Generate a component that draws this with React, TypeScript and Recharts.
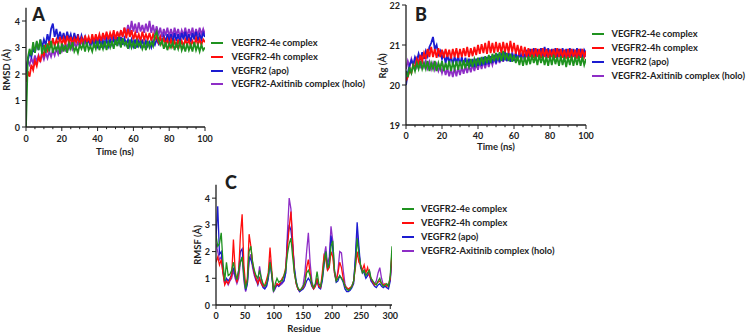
import React from 'react';
import { LineChart, Line, XAxis, YAxis } from 'recharts';

// ---- series metadata (legend order) ----
const SERIES_KEYS = ['e4', 'h4', 'apo', 'holo'];
const SERIES_NAMES = ['VEGFR2-4e complex', 'VEGFR2-4h complex', 'VEGFR2 (apo)', 'VEGFR2-Axitinib complex (holo)'];
const SERIES_COLORS = ['#1f921f', '#ff0d0d', '#1c1cd0', '#8e2ec6'];
// drawing order: holo at the back, 4e on top
const DRAW_ORDER = [3, 2, 1, 0];

// ---- simulation time (ns) ----
const TIME_NS = [
  0, 1, 2, 3, 4, 5, 6, 7, 8, 9, 10, 11, 12, 13, 14, 15, 16, 17, 18, 19, 20,
  21, 22, 23, 24, 25, 26, 27, 28, 29, 30, 31, 32, 33, 34, 35, 36, 37, 38, 39, 40,
  41, 42, 43, 44, 45, 46, 47, 48, 49, 50, 51, 52, 53, 54, 55, 56, 57, 58, 59, 60,
  61, 62, 63, 64, 65, 66, 67, 68, 69, 70, 71, 72, 73, 74, 75, 76, 77, 78, 79, 80,
  81, 82, 83, 84, 85, 86, 87, 88, 89, 90, 91, 92, 93, 94, 95, 96, 97, 98, 99, 100,
];

// ---- RMSD (Å) ----
const RMSD_4E = [
  0,
  2.6, 2.95, 2.7, 3.2, 2.8, 3.25, 2.9, 3.3, 2.75, 3.1,
  2.8, 3.15, 2.85, 3.25, 2.8, 3.05, 2.9, 3.1, 2.75, 3.15,
  2.85, 3.1, 2.8, 3.15, 2.95, 3.2, 2.85, 3.0, 2.8, 3.1,
  2.95, 3.15, 2.85, 3.2, 2.9, 3.05, 2.85, 3.15, 2.95, 3.25,
  2.9, 3.15, 2.95, 3.25, 2.9, 3.2, 3.0, 3.25, 2.95, 3.3,
  3.05, 3.4, 3.0, 3.35, 3.1, 3.2, 2.95, 3.3, 3.0, 3.2,
  2.95, 3.25, 3.05, 3.2, 2.95, 3.15, 2.9, 3.25, 3.0, 3.2,
  3.05, 3.45, 3.6, 3.3, 3.1, 3.25, 2.95, 3.2, 2.9, 3.15,
  3.0, 3.2, 2.9, 3.15, 2.95, 3.25, 2.9, 3.1, 2.85, 3.15,
  2.9, 3.1, 2.85, 3.2, 2.9, 3.1, 2.85, 3.1, 2.9, 3.0,
];
const RMSD_4H = [
  1.7,
  2.1, 1.9, 2.35, 2.15, 2.5, 2.3, 2.65, 2.45, 2.85, 2.7,
  3.1, 2.9, 3.25, 3.0, 3.35, 3.05, 3.3, 3.1, 3.4, 3.1,
  3.35, 3.1, 3.45, 3.15, 3.4, 3.1, 3.35, 3.2, 3.4, 3.1,
  3.35, 3.15, 3.45, 3.2, 3.4, 3.15, 3.5, 3.2, 3.5, 3.25,
  3.5, 3.25, 3.55, 3.3, 3.6, 3.3, 3.55, 3.35, 3.65, 3.3,
  3.6, 3.35, 3.65, 3.4, 3.75, 3.35, 3.7, 3.4, 3.65, 3.3,
  3.55, 3.3, 3.5, 3.25, 3.6, 3.3, 3.5, 3.3, 3.55, 3.25,
  3.5, 3.3, 3.45, 3.2, 3.4, 3.15, 3.35, 3.1, 3.3, 3.05,
  3.3, 3.05, 3.25, 3.0, 3.3, 3.05, 3.25, 3.05, 3.3, 3.1,
  3.3, 3.05, 3.25, 3.1, 3.35, 3.1, 3.3, 3.1, 3.3, 3.2,
];
const RMSD_APO = [
  2.0,
  2.5, 2.8, 2.65, 3.0, 2.8, 3.2, 2.9, 3.3, 3.0, 3.3,
  3.1, 3.5, 3.2, 3.7, 3.9, 3.4, 3.7, 3.3, 3.6, 3.3,
  3.55, 3.25, 3.6, 3.3, 3.5, 3.2, 3.55, 3.25, 3.5, 3.2,
  3.45, 3.2, 3.4, 3.1, 3.35, 3.05, 3.3, 3.0, 3.3, 3.05,
  3.3, 3.0, 3.25, 3.05, 3.3, 3.05, 3.3, 3.1, 3.35, 3.1,
  3.4, 3.15, 3.4, 3.1, 3.35, 3.1, 3.3, 3.05, 3.3, 3.05,
  3.3, 3.0, 3.25, 3.05, 3.3, 3.0, 3.25, 3.05, 3.2, 3.0,
  3.25, 3.1, 3.3, 3.15, 3.4, 3.2, 3.45, 3.2, 3.5, 3.25,
  3.5, 3.2, 3.55, 3.25, 3.5, 3.2, 3.55, 3.3, 3.6, 3.25,
  3.5, 3.2, 3.55, 3.3, 3.6, 3.25, 3.5, 3.3, 3.55, 3.4,
];
const RMSD_HOLO = [
  2.3,
  2.5, 2.35, 2.6, 2.4, 2.7, 2.45, 2.7, 2.5, 2.75, 2.55,
  2.8, 2.6, 2.85, 2.65, 2.9, 2.7, 2.95, 2.75, 3.0, 2.85,
  3.05, 2.9, 3.1, 2.95, 3.15, 2.95, 3.2, 3.0, 3.2, 3.05,
  3.25, 3.05, 3.25, 3.1, 3.3, 3.1, 3.3, 3.15, 3.35, 3.15,
  3.4, 3.2, 3.45, 3.25, 3.5, 3.3, 3.45, 3.3, 3.5, 3.35,
  3.55, 3.4, 3.6, 3.45, 3.75, 3.5, 3.85, 3.55, 4.0, 3.6,
  3.9, 3.55, 3.95, 3.6, 3.85, 3.55, 3.9, 3.6, 4.0, 3.55,
  3.85, 3.5, 3.8, 3.45, 3.75, 3.4, 3.7, 3.45, 3.75, 3.4,
  3.7, 3.4, 3.75, 3.45, 3.7, 3.4, 3.65, 3.45, 3.75, 3.4,
  3.7, 3.45, 3.75, 3.4, 3.7, 3.45, 3.75, 3.5, 3.7, 3.5,
];

// ---- radius of gyration (Å) ----
const RG_4E = [
  20.35,
  20.2, 20.45, 20.3, 20.5, 20.35, 20.55, 20.4, 20.6, 20.4, 20.55,
  20.4, 20.6, 20.35, 20.55, 20.4, 20.6, 20.35, 20.55, 20.4, 20.6,
  20.35, 20.55, 20.38, 20.6, 20.35, 20.55, 20.4, 20.6, 20.38, 20.6,
  20.4, 20.62, 20.42, 20.6, 20.45, 20.65, 20.45, 20.65, 20.5, 20.68,
  20.5, 20.7, 20.52, 20.72, 20.55, 20.75, 20.55, 20.78, 20.6, 20.8,
  20.62, 20.82, 20.6, 20.85, 20.62, 20.8, 20.6, 20.78, 20.58, 20.75,
  20.55, 20.72, 20.5, 20.7, 20.48, 20.7, 20.5, 20.72, 20.52, 20.75,
  20.55, 20.72, 20.5, 20.75, 20.55, 20.72, 20.5, 20.7, 20.48, 20.72,
  20.5, 20.75, 20.52, 20.7, 20.48, 20.72, 20.5, 20.7, 20.45, 20.7,
  20.5, 20.72, 20.48, 20.7, 20.5, 20.72, 20.48, 20.7, 20.5, 20.65,
];
const RG_4H = [
  20.1,
  20.2, 20.35, 20.3, 20.5, 20.45, 20.65, 20.5, 20.75, 20.6, 20.8,
  20.65, 20.9, 20.7, 20.95, 20.7, 20.9, 20.68, 20.92, 20.7, 20.88,
  20.68, 20.9, 20.7, 20.88, 20.66, 20.9, 20.7, 20.92, 20.68, 20.9,
  20.7, 20.92, 20.72, 20.95, 20.7, 20.92, 20.72, 20.95, 20.75, 21.0,
  20.78, 21.02, 20.8, 21.05, 20.78, 21.1, 20.8, 21.05, 20.8, 21.08,
  20.82, 21.05, 20.8, 21.08, 20.82, 21.05, 20.8, 21.1, 20.82, 21.05,
  20.78, 21.0, 20.75, 20.98, 20.72, 20.95, 20.7, 20.92, 20.7, 20.9,
  20.68, 20.92, 20.7, 20.9, 20.68, 20.92, 20.7, 20.9, 20.68, 20.88,
  20.7, 20.9, 20.68, 20.92, 20.7, 20.9, 20.68, 20.88, 20.66, 20.9,
  20.68, 20.9, 20.7, 20.88, 20.66, 20.9, 20.68, 20.9, 20.7, 20.85,
];
const RG_APO = [
  20.0,
  20.3, 20.5, 20.62, 20.5, 20.7, 20.6, 20.78, 20.62, 20.82, 20.65,
  20.85, 20.72, 20.95, 21.05, 21.2, 20.9, 21.0, 20.75, 20.85, 20.65,
  20.78, 20.55, 20.75, 20.55, 20.72, 20.52, 20.7, 20.55, 20.72, 20.5,
  20.7, 20.5, 20.68, 20.48, 20.66, 20.46, 20.65, 20.45, 20.66, 20.48,
  20.68, 20.48, 20.7, 20.5, 20.7, 20.52, 20.72, 20.55, 20.75, 20.55,
  20.78, 20.58, 20.8, 20.6, 20.82, 20.6, 20.8, 20.58, 20.78, 20.6,
  20.8, 20.62, 20.82, 20.65, 20.85, 20.65, 20.88, 20.68, 20.9, 20.7,
  20.92, 20.7, 20.9, 20.68, 20.92, 20.7, 20.95, 20.72, 20.92, 20.7,
  20.9, 20.68, 20.92, 20.7, 20.9, 20.68, 20.92, 20.7, 20.9, 20.72,
  20.92, 20.7, 20.9, 20.72, 20.92, 20.7, 20.9, 20.72, 20.88, 20.8,
];
const RG_HOLO = [
  20.4,
  20.6, 20.45, 20.65, 20.5, 20.62, 20.45, 20.6, 20.42, 20.62, 20.45,
  20.6, 20.42, 20.58, 20.4, 20.55, 20.38, 20.52, 20.35, 20.48, 20.3,
  20.45, 20.25, 20.42, 20.22, 20.4, 20.2, 20.42, 20.22, 20.44, 20.25,
  20.45, 20.28, 20.48, 20.3, 20.5, 20.32, 20.52, 20.35, 20.55, 20.38,
  20.58, 20.4, 20.6, 20.42, 20.62, 20.45, 20.65, 20.5, 20.68, 20.52,
  20.72, 20.55, 20.75, 20.58, 20.78, 20.6, 20.8, 20.6, 20.82, 20.62,
  20.8, 20.6, 20.82, 20.62, 20.85, 20.6, 20.82, 20.62, 20.88, 20.64,
  20.85, 20.62, 20.88, 20.65, 20.85, 20.62, 20.88, 20.66, 20.9, 20.65,
  20.86, 20.64, 20.88, 20.65, 20.9, 20.66, 20.86, 20.64, 20.88, 20.66,
  20.9, 20.65, 20.86, 20.64, 20.88, 20.66, 20.9, 20.65, 20.86, 20.7,
];

// ---- per-residue fluctuation (Å) ----
const RESIDUES = [
  0, 3, 6, 9, 12, 15, 18, 21, 24, 27,
  30, 33, 36, 39, 42, 45, 48, 51, 54, 57,
  60, 63, 66, 69, 72, 75, 78, 81, 84, 87,
  90, 93, 96, 99, 102, 105, 108, 111, 114, 117,
  120, 123, 126, 129, 132, 135, 138, 141, 144, 147,
  150, 153, 156, 159, 162, 165, 168, 171, 174, 177,
  180, 183, 186, 189, 192, 195, 198, 201, 204, 207,
  210, 213, 216, 219, 222, 225, 228, 231, 234, 237,
  240, 243, 246, 249, 252, 255, 258, 261, 264, 267,
  270, 273, 276, 279, 282, 285, 288, 291, 294, 297,
  300, 303,
];
const RMSF_4E = [
  2.6, 2.2, 2.3, 2.7, 1.6, 0.9, 1.6, 1.1, 1.15, 1.3,
  1.6, 1.2, 0.95, 1.3, 1.6, 1.8, 1.1, 0.6, 0.9, 2.0,
  2.2, 1.6, 1.3, 1.1, 1.0, 1.3, 1.0, 0.8, 0.7, 0.8,
  1.1, 1.6, 1.2, 0.5, 0.8, 1.0, 0.85, 0.9, 0.9, 1.1,
  1.3, 1.9, 2.3, 2.5, 1.8, 1.2, 0.85, 0.65, 0.55, 0.6,
  0.7, 0.85, 1.2, 1.3, 1.1, 0.8, 0.65, 0.8, 1.25, 0.8,
  0.7, 1.0, 1.6, 2.0, 1.4, 1.5, 2.2, 2.4, 1.3, 0.9,
  1.0, 1.1, 1.0, 0.9, 0.7, 0.6, 0.55, 0.6, 0.7, 0.9,
  1.5, 2.5, 1.9, 1.5, 1.2, 1.3, 1.1, 1.2, 1.3, 1.0,
  0.9, 0.8, 0.75, 0.9, 1.0, 0.8, 0.7, 0.75, 0.8, 0.7,
  1.1, 2.2,
];
const RMSF_4H = [
  1.6, 1.8, 1.5, 1.7, 1.2, 0.75, 0.9, 0.8, 0.95, 1.1,
  2.45, 1.3, 0.85, 1.2, 2.6, 3.4, 1.5, 0.7, 1.0, 2.65,
  2.2, 1.6, 1.2, 1.0, 0.8, 1.0, 0.8, 0.7, 0.75, 0.95,
  1.2, 2.15, 1.3, 0.6, 0.7, 0.8, 0.75, 0.85, 1.0, 1.1,
  1.4, 2.2, 2.9, 3.5, 2.3, 1.2, 0.8, 0.6, 0.55, 0.6,
  0.65, 0.8, 1.4, 1.7, 1.2, 0.75, 0.6, 0.7, 1.0, 0.7,
  0.65, 1.2, 1.85, 1.7, 1.3, 1.4, 2.0, 1.8, 1.2, 0.9,
  1.2, 1.6, 1.4, 1.0, 0.7, 0.65, 0.6, 0.65, 0.7, 0.9,
  1.4, 2.0, 1.6, 1.5, 1.3, 1.5, 1.2, 1.4, 1.1, 1.0,
  0.85, 0.75, 0.8, 0.85, 0.9, 0.8, 0.75, 0.8, 0.7, 0.75,
  1.0, 2.0,
];
const RMSF_APO = [
  2.5, 3.7, 1.9, 2.0, 1.3, 0.85, 1.0, 0.9, 1.0, 1.15,
  1.4, 1.1, 0.9, 1.3, 2.0, 2.1, 1.2, 0.55, 0.8, 1.8,
  1.7, 1.5, 1.2, 0.95, 0.75, 1.0, 0.8, 0.65, 0.6, 0.7,
  1.0, 1.6, 1.1, 0.55, 0.65, 0.75, 0.7, 0.8, 0.85, 0.9,
  1.2, 2.4, 3.0, 2.8, 2.2, 1.4, 0.9, 0.6, 0.5, 0.55,
  0.6, 0.7, 0.9, 1.0, 0.9, 0.7, 0.6, 0.7, 0.9, 0.65,
  0.6, 0.9, 1.5, 2.0, 1.3, 1.6, 2.6, 2.1, 1.2, 0.85,
  0.9, 1.1, 1.0, 0.85, 0.6, 0.5, 0.5, 0.55, 0.65, 0.8,
  1.8, 3.1, 2.2, 1.4, 1.3, 1.2, 1.0, 1.1, 1.3, 0.9,
  0.8, 0.7, 0.65, 0.75, 0.8, 0.7, 0.65, 0.7, 0.65, 0.6,
  0.9, 1.8,
];
const RMSF_HOLO = [
  2.3, 2.0, 1.7, 1.8, 1.2, 0.8, 0.9, 0.75, 0.9, 1.0,
  1.3, 1.0, 0.8, 1.0, 1.6, 1.8, 0.9, 0.5, 0.8, 1.6,
  1.9, 1.4, 1.1, 0.9, 0.9, 1.45, 1.0, 0.7, 0.65, 0.7,
  1.0, 1.7, 1.1, 0.5, 0.6, 0.8, 0.7, 0.75, 0.8, 0.9,
  1.2, 2.7, 4.0, 3.6, 2.4, 1.3, 0.8, 0.6, 0.5, 0.6,
  0.75, 1.2, 2.0, 2.7, 1.6, 0.9, 0.65, 0.75, 1.0, 0.7,
  0.65, 1.0, 1.8, 2.2, 1.5, 1.8, 2.95, 2.4, 1.3, 0.9,
  1.3, 2.0, 1.95, 1.3, 0.8, 0.6, 0.55, 0.6, 0.7, 0.9,
  1.7, 2.75, 2.0, 1.4, 1.2, 1.3, 1.1, 1.2, 1.1, 0.9,
  0.85, 0.8, 0.9, 1.2, 1.4, 1.0, 0.75, 0.7, 0.75, 0.7,
  1.0, 1.9,
];

// ---- axis ticks ----
const TIME_TICKS = [0, 5, 10, 15, 20, 25, 30, 35, 40, 45, 50, 55, 60, 65, 70, 75, 80, 85, 90, 95, 100];
const TIME_LABELS = [0, 20, 40, 60, 80, 100];
const RES_TICKS = [0, 25, 50, 75, 100, 125, 150, 175, 200, 225, 250, 275, 300];
const RES_LABELS = [0, 50, 100, 150, 200, 250, 300];
const RMSD_TICKS = [0, 1, 2, 3, 4];
const RG_TICKS = [19, 20, 21, 22];
const RMSF_TICKS = [0, 1, 2, 3, 4];

function buildRows(xKey: string, xs: number[], cols: number[][]) {
  return xs.map((x, i) => {
    const row: Record<string, number> = { [xKey]: x };
    SERIES_KEYS.forEach((k, j) => {
      row[k] = cols[j][i];
    });
    return row;
  });
}

const rmsdRows = buildRows('t', TIME_NS, [RMSD_4E, RMSD_4H, RMSD_APO, RMSD_HOLO]);
const rgRows = buildRows('t', TIME_NS, [RG_4E, RG_4H, RG_APO, RG_HOLO]);
const rmsfRows = buildRows('r', RESIDUES, [RMSF_4E, RMSF_4H, RMSF_APO, RMSF_HOLO]);

const FONT = 'Lato, "Open Sans", "DejaVu Sans", sans-serif';
const INK = '#1e1e1e';

const tickText = { fontFamily: FONT, fontWeight: 700, fontSize: 9, fill: INK } as const;

function makeXTick(labels: number[], labelDy: number) {
  return (props: any) => {
    const { x, y, payload } = props;
    const major = labels.includes(payload.value);
    return (
      <g>
        <line x1={x} x2={x} y1={y} y2={y + (major ? 4 : 2.2)} stroke={INK} strokeWidth={1} />
        {major && (
          <text x={x} y={y + labelDy} textAnchor="middle" dominantBaseline="central" style={tickText}>
            {payload.value}
          </text>
        )}
      </g>
    );
  };
}

function YTick(props: any) {
  const { x, y, payload } = props;
  return (
    <g>
      <line x1={x - 4} x2={x} y1={y} y2={y} stroke={INK} strokeWidth={1} />
      <text x={x - 6} y={y} textAnchor="end" dominantBaseline="central" style={tickText}>
        {payload.value}
      </text>
    </g>
  );
}

type PanelProps = {
  left: number;
  top: number;
  width: number;
  height: number;
  margin: { top: number; right: number; bottom: number; left: number };
  rows: Record<string, number>[];
  xKey: string;
  xDomain: [number, number];
  xTicks: number[];
  xLabels: number[];
  labelDy: number;
  xAxisHeight: number;
  yDomain: [number, number];
  yTicks: number[];
  strokeWidth: number;
};

function Panel(p: PanelProps) {
  return (
    <div style={{ position: 'absolute', left: p.left, top: p.top }}>
      <LineChart width={p.width} height={p.height} data={p.rows} margin={p.margin}>
        <XAxis
          dataKey={p.xKey}
          type="number"
          domain={p.xDomain}
          ticks={p.xTicks}
          interval={0}
          tickSize={0}
          tickMargin={0}
          tickLine={false}
          height={p.xAxisHeight}
          axisLine={{ stroke: INK, strokeWidth: 1.3 }}
          tick={makeXTick(p.xLabels, p.labelDy)}
          allowDataOverflow
        />
        <YAxis
          type="number"
          domain={p.yDomain}
          ticks={p.yTicks}
          interval={0}
          tickSize={0}
          tickMargin={0}
          tickLine={false}
          width={26}
          axisLine={{ stroke: INK, strokeWidth: 1.3 }}
          tick={YTick}
          allowDataOverflow
        />
        {DRAW_ORDER.map((j) => (
          <Line
            key={SERIES_KEYS[j]}
            dataKey={SERIES_KEYS[j]}
            type="linear"
            stroke={SERIES_COLORS[j]}
            strokeWidth={p.strokeWidth}
            strokeLinejoin="miter"
            dot={false}
            activeDot={false}
            isAnimationActive={false}
          />
        ))}
      </LineChart>
    </div>
  );
}

function Caption(props: { x: number; y: number; text: string; size?: number; rotate?: boolean; weight?: number }) {
  const { x, y, text, size = 9.5, rotate = false, weight = 700 } = props;
  return (
    <div
      style={{
        position: 'absolute',
        left: x,
        top: y,
        transform: `translate(-50%, -50%)${rotate ? ' rotate(-90deg)' : ''}`,
        fontFamily: FONT,
        fontWeight: weight,
        fontSize: size,
        lineHeight: 1,
        color: INK,
        whiteSpace: 'nowrap',
      }}
    >
      {text}
    </div>
  );
}

function LegendBlock(props: { lineX: number; textX: number; firstY: number; step: number }) {
  const { lineX, textX, firstY, step } = props;
  return (
    <>
      {SERIES_NAMES.map((name, i) => {
        const cy = firstY + i * step;
        return (
          <React.Fragment key={name}>
            <div
              style={{
                position: 'absolute',
                left: lineX,
                top: cy - 1,
                width: 12,
                height: 2,
                background: SERIES_COLORS[i],
              }}
            />
            <div
              style={{
                position: 'absolute',
                left: textX,
                top: cy,
                transform: 'translateY(-50%)',
                fontFamily: FONT,
                fontWeight: 700,
                fontSize: 9.3,
                lineHeight: 1,
                color: INK,
                whiteSpace: 'nowrap',
              }}
            >
              {name}
            </div>
          </React.Fragment>
        );
      })}
    </>
  );
}

export default function App() {
  return (
    <div
      style={{
        position: 'absolute',
        left: 0,
        top: 0,
        width: 747,
        height: 334,
        background: '#ffffff',
        overflow: 'hidden',
      }}
    >
      {/* A: backbone RMSD */}
      <Panel
        left={0}
        top={0}
        width={215}
        height={160}
        margin={{ top: 7.75, right: 10, bottom: 0, left: 0 }}
        rows={rmsdRows}
        xKey="t"
        xDomain={[0, 100]}
        xTicks={TIME_TICKS}
        xLabels={TIME_LABELS}
        labelDy={11}
        xAxisHeight={33}
        yDomain={[0, 4.5]}
        yTicks={RMSD_TICKS}
        strokeWidth={1.8}
      />
      {/* B: radius of gyration */}
      <Panel
        left={380}
        top={0}
        width={216}
        height={158}
        margin={{ top: 5, right: 10, bottom: 0, left: 0 }}
        rows={rgRows}
        xKey="t"
        xDomain={[0, 100]}
        xTicks={TIME_TICKS}
        xLabels={TIME_LABELS}
        labelDy={10.7}
        xAxisHeight={33}
        yDomain={[19, 22]}
        yTicks={RG_TICKS}
        strokeWidth={1.8}
      />
      {/* C: per-residue RMSF */}
      <Panel
        left={190}
        top={170}
        width={212}
        height={164}
        margin={{ top: 14.8, right: 10, bottom: 0, left: 0 }}
        rows={rmsfRows}
        xKey="r"
        xDomain={[0, 303]}
        xTicks={RES_TICKS}
        xLabels={RES_LABELS}
        labelDy={10}
        xAxisHeight={29}
        yDomain={[0, 4.5]}
        yTicks={RMSF_TICKS}
        strokeWidth={1.3}
      />

      <Caption x={38.5} y={14} text="A" size={18} weight={900} />
      <Caption x={421} y={14} text="B" size={18} weight={900} />
      <Caption x={231} y={182} text="C" size={18} weight={900} />

      <Caption x={7} y={70} text="RMSD (Å)" rotate />
      <Caption x={115} y={152} text="Time (ns)" />
      <Caption x={383} y={66} text="Rg (Å)" rotate />
      <Caption x={496} y={147} text="Time (ns)" />
      <Caption x={198} y={245} text="RMSF (Å)" rotate />
      <Caption x={304} y={329} text="Residue" />

      <LegendBlock lineX={211} textX={231.5} firstY={42.7} step={13.9} />
      <LegendBlock lineX={591.5} textX={611.5} firstY={34} step={13.9} />
      <LegendBlock lineX={401.5} textX={421} firstY={209.3} step={13.8} />
    </div>
  );
}
